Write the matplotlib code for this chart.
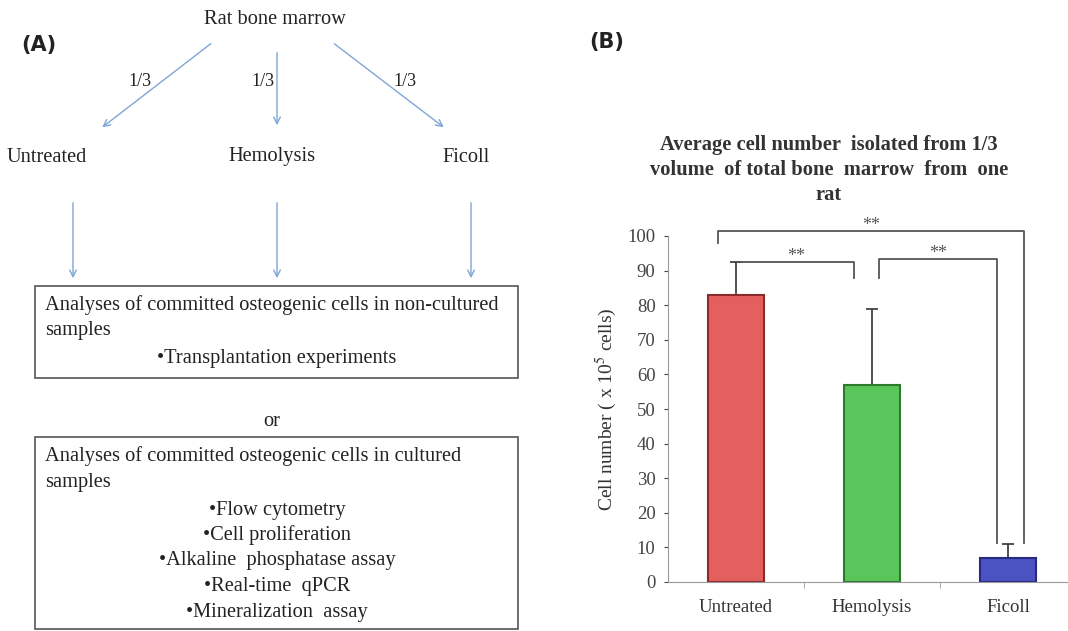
import numpy as np
import matplotlib
matplotlib.use("Agg")
import matplotlib.pyplot as plt
from matplotlib.patches import Rectangle, FancyArrowPatch

plt.rcParams['font.family'] = ['Liberation Serif', 'DejaVu Serif']
plt.rcParams['mathtext.fontset'] = 'stix'

# data for panel B
groups = ['Untreated', 'Hemolysis', 'Ficoll']
means = [83, 57, 7]
err_up = [9.5, 22, 4]
colors = ['#e4605e', '#5ac55a', '#4b52c2']
edges = ['#8a2a2a', '#2d7a2d', '#262a80']

# significance brackets: (left group, right group, left leg bottom, right leg bottom, height, label)
pairs = [(0, 1, 92.5, 88, 92.5, '**'),
         (1, 2, 88, 11.3, 93.3, '**'),
         (0, 2, 98, 11.3, 101.5, '**')]
# horizontal offsets of bracket legs from the group centres
offs = {(0, 1): (0.01, -0.13), (1, 2): (0.05, -0.08), (0, 2): (-0.13, 0.12)}

# panel A text
top_label = 'Rat bone marrow'
branches = ['Untreated', 'Hemolysis', 'Ficoll']
box1 = ['Analyses of committed osteogenic cells in non-cultured', 'samples']
box1_items = ['\u2022Transplantation experiments']
box2 = ['Analyses of committed osteogenic cells in cultured', 'samples']
box2_items = ['\u2022Flow cytometry', '\u2022Cell proliferation',
              '\u2022Alkaline  phosphatase assay', '\u2022Real-time  qPCR',
              '\u2022Mineralization  assay']

W, H = 1068, 631
fig = plt.figure(figsize=(W / 100, H / 100), dpi=100)


def fx(x):
    return x / W


def fy(y):
    return 1 - y / H


def ftext(x, y, s, **kw):
    fig.text(fx(x), fy(y), s, **kw)


def farrow(x0, y0, x1, y1):
    a = FancyArrowPatch((fx(x0), fy(y0)), (fx(x1), fy(y1)), transform=fig.transFigure,
                        arrowstyle='->', mutation_scale=12, color='#7ea6d4', lw=1.0)
    fig.patches.append(a)


# ---- panel A ----
fs = 14.7
txtc = '#222222'
ftext(21, 45, '(A)', family='DejaVu Sans', fontsize=15, weight='bold', va='center', color='#222222')
ftext(275, 19, top_label, fontsize=fs, ha='center', va='center', color=txtc)

farrow(213, 42, 100, 129)
farrow(277, 50, 277, 128)
farrow(332, 42, 446, 129)
for x, s in zip([140, 263, 405], ['1/3'] * 3):
    ftext(x, 82, s, fontsize=13, ha='center', va='center', color=txtc)

for x, s in zip([47, 272, 466], branches):
    ftext(x, 157, s, fontsize=fs, ha='center', va='center', color=txtc)
for x in [73, 277, 471]:
    farrow(x, 200, x, 281)

fig.patches.append(Rectangle((fx(35), fy(378)), fx(518) - fx(35), fy(286) - fy(378),
                             transform=fig.transFigure, fill=False, ec='#555555', lw=1.2))
for i, s in enumerate(box1):
    ftext(45, 305 + 26 * i, s, fontsize=fs, va='center', color=txtc)
for i, s in enumerate(box1_items):
    ftext(277, 358 + 26 * i, s, fontsize=fs, ha='center', va='center', color=txtc)

ftext(272, 421, 'or', fontsize=fs, ha='center', va='center', color=txtc)

fig.patches.append(Rectangle((fx(35), fy(629)), fx(518) - fx(35), fy(437) - fy(629),
                             transform=fig.transFigure, fill=False, ec='#555555', lw=1.2))
for i, s in enumerate(box2):
    ftext(45, 456 + 27 * i, s, fontsize=fs, va='center', color=txtc)
for i, s in enumerate(box2_items):
    ftext(277, 510 + 25.5 * i, s, fontsize=fs, ha='center', va='center', color=txtc)

# ---- panel B ----
ftext(589, 42, '(B)', family='DejaVu Sans', fontsize=15, weight='bold', va='center', color='#222222')
ftext(829, 170, 'Average cell number  isolated from 1/3\nvolume  of total bone  marrow  from  one\nrat',
      fontsize=14.8, weight='bold', ha='center', va='center', color='#333333', linespacing=1.32)

ax = fig.add_axes([fx(668), fy(582), (W - 668) / W, (582 - 236) / H])
x = np.arange(len(groups))
ax.bar(x, means, width=0.41, color=colors, edgecolor=edges, linewidth=1.5, zorder=2)
ax.errorbar(x, means, yerr=[np.zeros(3), err_up], fmt='none', ecolor='#333333',
            elinewidth=1.2, capsize=4, capthick=1.2, zorder=1)

ax.set_xlim(-0.5, -0.5 + 400 / 136)
ax.set_ylim(0, 100)
ax.set_yticks(np.arange(0, 101, 10))
ax.set_xticks(x)
ax.set_xticklabels(groups, fontsize=13.5, color='#333333')
ax.tick_params(axis='x', length=0, pad=12)
ax.set_xticks([0.5, 1.5], minor=True)
ax.tick_params(axis='x', which='minor', length=4, color='#999999')
ax.tick_params(axis='y', labelsize=13.5, colors='#444444', length=3, pad=6)
for lab in ax.get_yticklabels():
    lab.set_color('#444444')
for sp in ['top', 'right']:
    ax.spines[sp].set_visible(False)
for sp in ['left', 'bottom']:
    ax.spines[sp].set_color('#9a9a9a')
ax.set_ylabel('Cell number ( x 10$^5$ cells)', fontsize=14, color='#333333', labelpad=6)

for a, b, ya, yb, h, lab in pairs:
    xa = x[a] + offs[(a, b)][0]
    xb = x[b] + offs[(a, b)][1]
    ax.plot([xa, xa, xb, xb], [ya, h, h, yb], color='#555555', lw=1.3, clip_on=False, zorder=3)
    ax.text((xa + xb) / 2, h + 1.5, lab, ha='center', va='center', fontsize=13,
            color='#555555', clip_on=False)

fig.savefig('out.png', dpi=100)
